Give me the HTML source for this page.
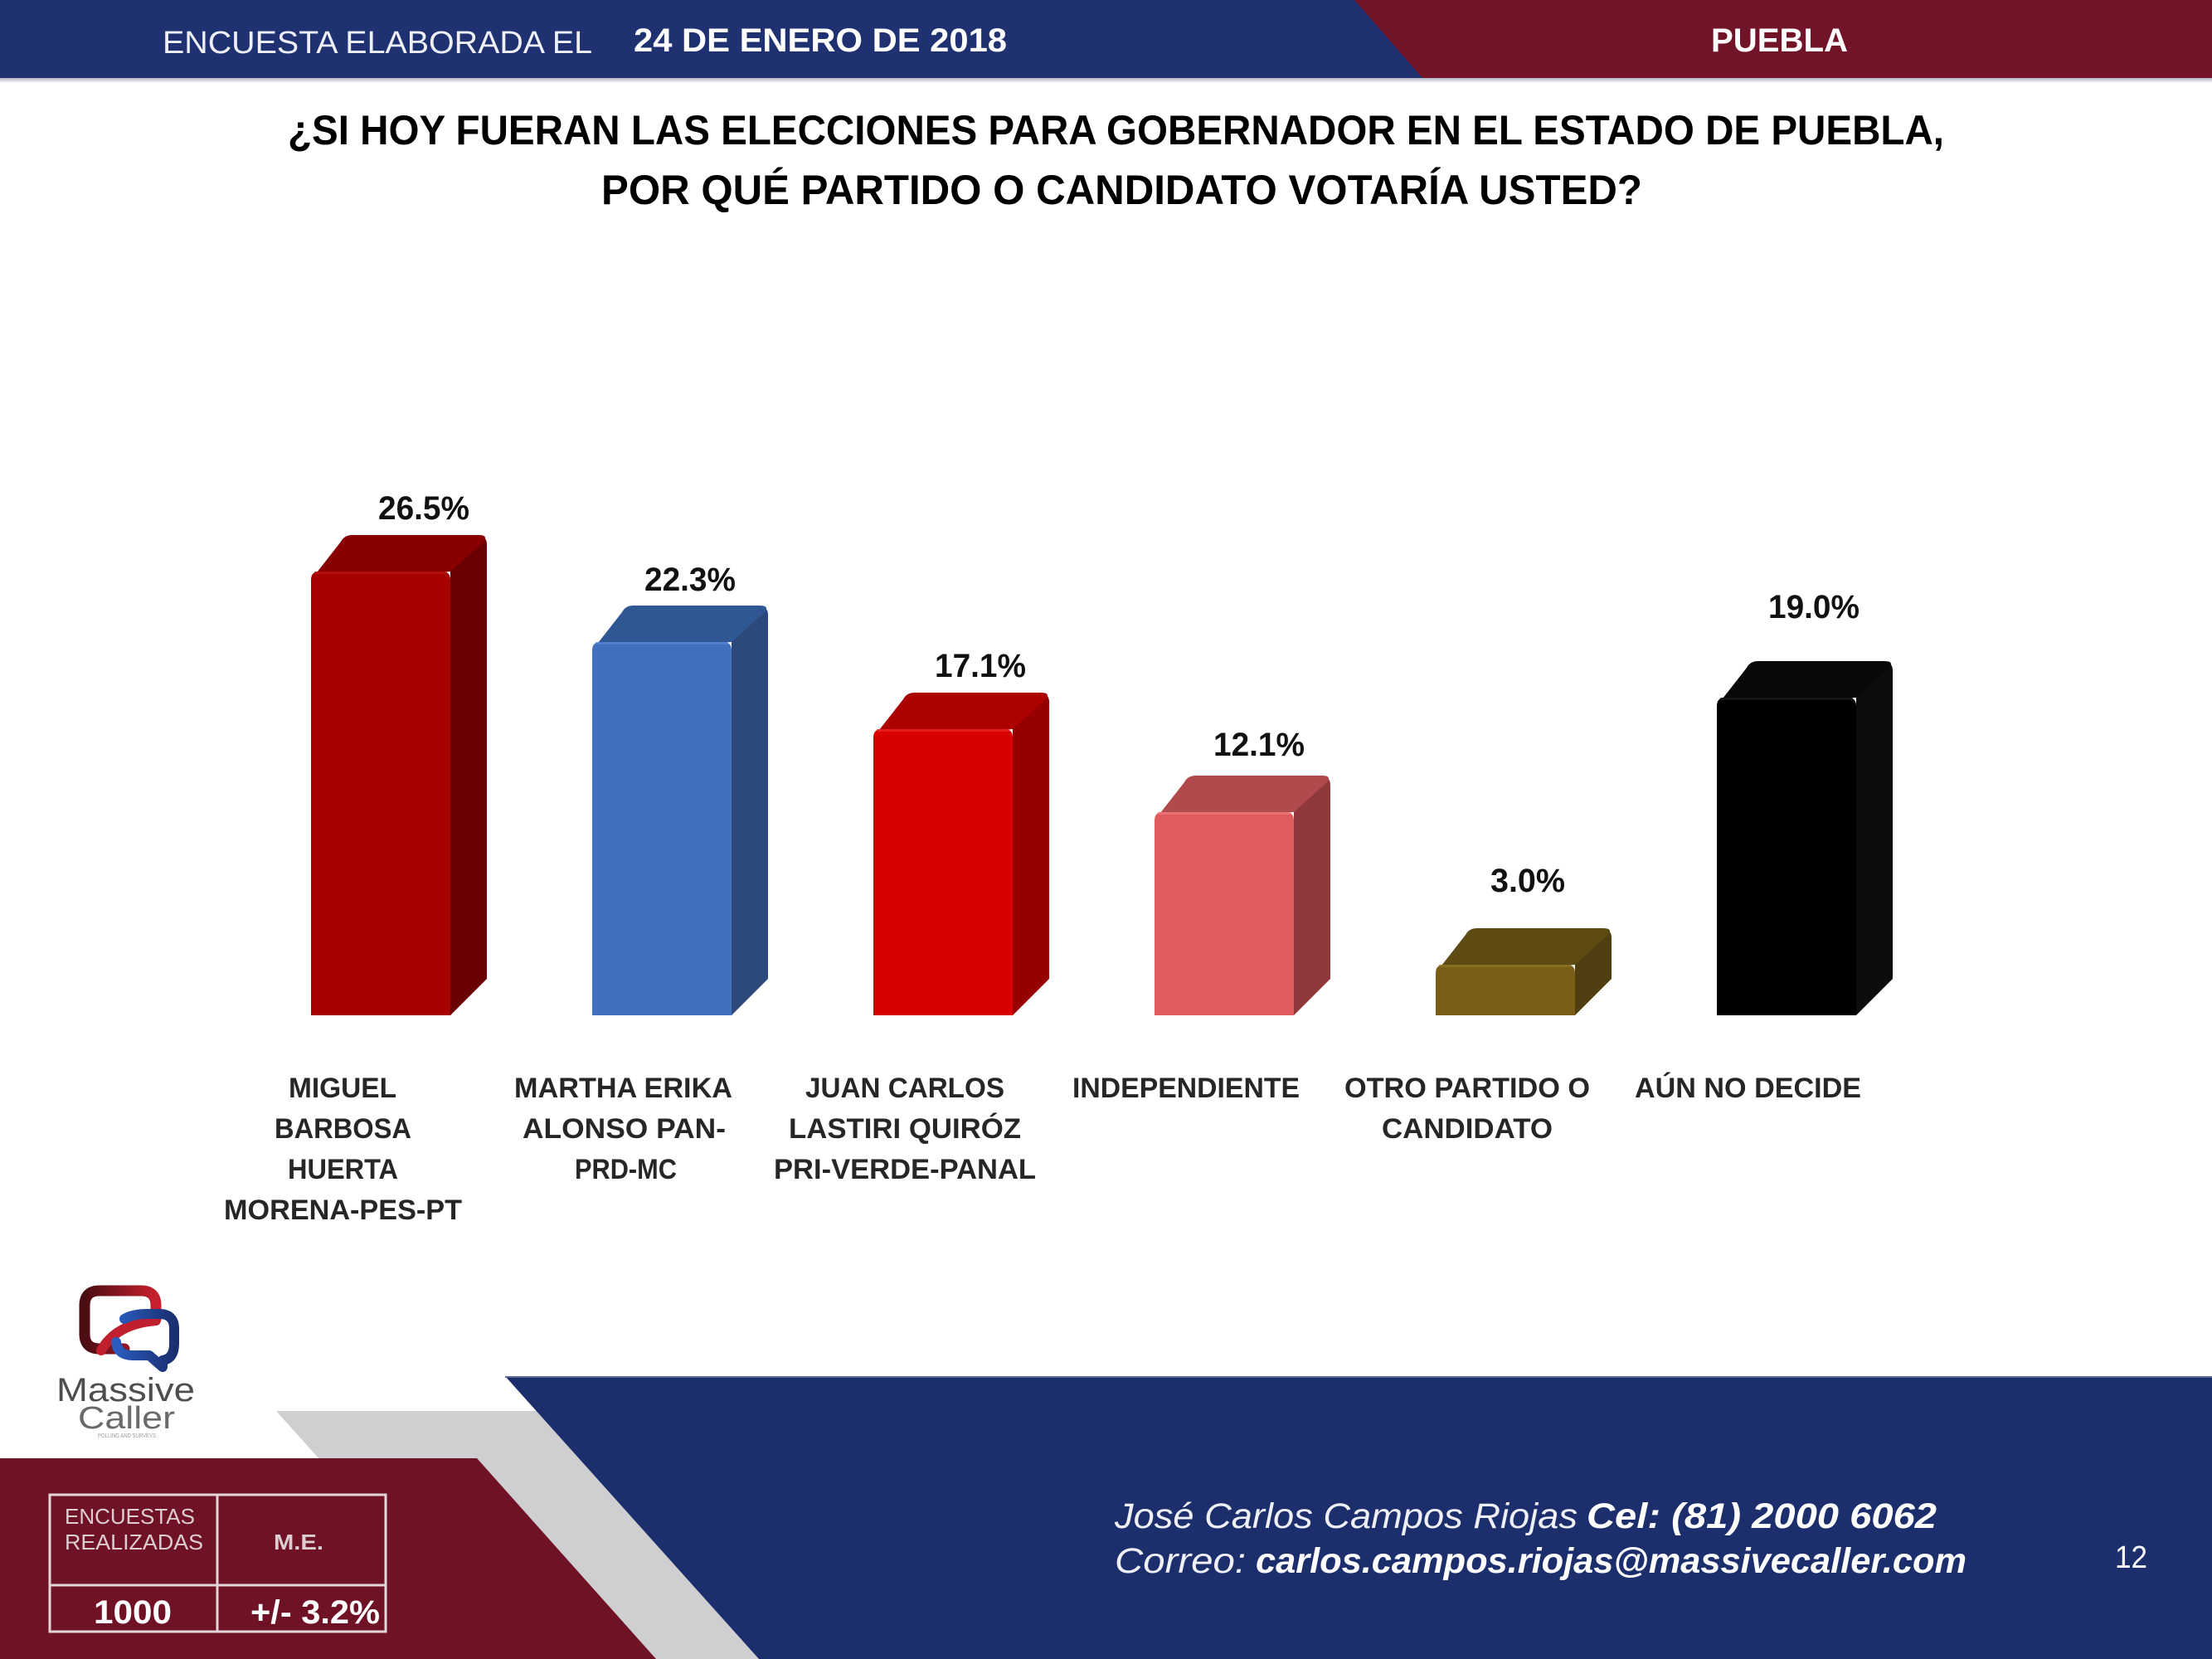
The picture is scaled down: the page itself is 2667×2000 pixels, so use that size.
<!DOCTYPE html>
<html>
<head>
<meta charset="utf-8">
<style>
html,body{margin:0;padding:0;background:#fff;}
svg{display:block;}
text{font-family:"Liberation Sans",Arial,sans-serif;}
</style>
</head>
<body>
<svg width="2667" height="2000" viewBox="0 0 2667 2000" xmlns="http://www.w3.org/2000/svg">
<defs>
  <linearGradient id="shadow" x1="0" y1="0" x2="0" y2="1">
    <stop offset="0" stop-color="#aeb3c4"/>
    <stop offset="1" stop-color="#ffffff"/>
  </linearGradient>
  <linearGradient id="rg" x1="0" y1="0" x2="1" y2="0">
    <stop offset="0" stop-color="#4a0d12"/>
    <stop offset="1" stop-color="#c8202f"/>
  </linearGradient>
  <linearGradient id="bg" x1="0" y1="0" x2="1" y2="0">
    <stop offset="0" stop-color="#2a5cc0"/>
    <stop offset="1" stop-color="#1a2f70"/>
  </linearGradient>
</defs>

<!-- Header -->
<rect x="0" y="0" width="2667" height="94" fill="#1f3170"/>
<polygon points="1633,0 2667,0 2667,94 1715,94" fill="#721428"/>
<rect x="0" y="94" width="2667" height="6" fill="url(#shadow)"/>
<text x="196" y="64" font-size="38" fill="#eef0f6" textLength="518" lengthAdjust="spacingAndGlyphs">ENCUESTA ELABORADA EL</text>
<text x="764" y="62" font-size="40" font-weight="bold" fill="#ffffff" textLength="450" lengthAdjust="spacingAndGlyphs">24 DE ENERO DE 2018</text>
<text x="2063" y="62" font-size="40" font-weight="bold" fill="#ffffff" textLength="165" lengthAdjust="spacingAndGlyphs">PUEBLA</text>

<!-- Title -->
<text x="347" y="174" font-size="50" font-weight="bold" fill="#000" textLength="1997" lengthAdjust="spacingAndGlyphs">¿SI HOY FUERAN LAS ELECCIONES PARA GOBERNADOR EN EL ESTADO DE PUEBLA,</text>
<text x="725" y="246" font-size="50" font-weight="bold" fill="#000" textLength="1255" lengthAdjust="spacingAndGlyphs">POR QUÉ PARTIDO O CANDIDATO VOTARÍA USTED?</text>

<!-- Bars -->
<g>
  <path d="M543,689 L577,649 Q587,645 587,657 L587,1180 L543,1224 Z" fill="#6b0000"/>
  <path d="M375,699 L411,653 Q415,645 425,645 L577,645 Q589,645 583,653 L543,689 Z" fill="#880000"/>
  <path d="M375,1224 L375,699 Q375,689 385,689 L533,689 Q543,689 543,699 L543,1224 Z" fill="#a60000"/>
  <rect x="379" y="689" width="160" height="3" fill="#b81414" opacity="0.7"/>
</g>
<g>
  <path d="M882,774 L916,734 Q926,730 926,742 L926,1180 L882,1224 Z" fill="#2b4a7b"/>
  <path d="M714,784 L750,738 Q754,730 764,730 L916,730 Q928,730 922,738 L882,774 Z" fill="#2e5793"/>
  <path d="M714,1224 L714,784 Q714,774 724,774 L872,774 Q882,774 882,784 L882,1224 Z" fill="#4170bf"/>
  <rect x="718" y="774" width="160" height="3" fill="#5a88d4" opacity="0.7"/>
</g>
<g>
  <path d="M1221,879 L1255,839 Q1265,835 1265,847 L1265,1180 L1221,1224 Z" fill="#960000"/>
  <path d="M1053,889 L1089,843 Q1093,835 1103,835 L1255,835 Q1267,835 1261,843 L1221,879 Z" fill="#ad0000"/>
  <path d="M1053,1224 L1053,889 Q1053,879 1063,879 L1211,879 Q1221,879 1221,889 L1221,1224 Z" fill="#da0000"/>
  <rect x="1057" y="879" width="160" height="3" fill="#ea2a2a" opacity="0.7"/>
</g>
<g>
  <path d="M1560,979 L1594,939 Q1604,935 1604,947 L1604,1180 L1560,1224 Z" fill="#8f393c"/>
  <path d="M1392,989 L1428,943 Q1432,935 1442,935 L1594,935 Q1606,935 1600,943 L1560,979 Z" fill="#b04a4d"/>
  <path d="M1392,1224 L1392,989 Q1392,979 1402,979 L1550,979 Q1560,979 1560,989 L1560,1224 Z" fill="#df5b5e"/>
  <rect x="1396" y="979" width="160" height="3" fill="#ee7a7c" opacity="0.7"/>
</g>
<g>
  <path d="M1899,1163 L1933,1123 Q1943,1119 1943,1131 L1943,1180 L1899,1224 Z" fill="#4e3e10"/>
  <path d="M1731,1173 L1767,1127 Q1771,1119 1781,1119 L1933,1119 Q1945,1119 1939,1127 L1899,1163 Z" fill="#5e4a13"/>
  <path d="M1731,1224 L1731,1173 Q1731,1163 1741,1163 L1889,1163 Q1899,1163 1899,1173 L1899,1224 Z" fill="#7a5e18"/>
  <rect x="1735" y="1163" width="160" height="3" fill="#907428" opacity="0.7"/>
</g>
<g>
  <path d="M2238,841 L2272,801 Q2282,797 2282,809 L2282,1180 L2238,1224 Z" fill="#0d0d0d"/>
  <path d="M2070,851 L2106,805 Q2110,797 2120,797 L2272,797 Q2284,797 2278,805 L2238,841 Z" fill="#080808"/>
  <path d="M2070,1224 L2070,851 Q2070,841 2080,841 L2228,841 Q2238,841 2238,851 L2238,1224 Z" fill="#000000"/>
  <rect x="2074" y="841" width="160" height="3" fill="#1c1c1c" opacity="0.7"/>
</g>

<!-- Value labels -->
<g font-size="40" font-weight="bold" fill="#111">
  <text x="456" y="626" textLength="110" lengthAdjust="spacingAndGlyphs">26.5%</text>
  <text x="777" y="712" textLength="110" lengthAdjust="spacingAndGlyphs">22.3%</text>
  <text x="1127" y="816" textLength="110" lengthAdjust="spacingAndGlyphs">17.1%</text>
  <text x="1463" y="911" textLength="110" lengthAdjust="spacingAndGlyphs">12.1%</text>
  <text x="1797" y="1075" textLength="90" lengthAdjust="spacingAndGlyphs">3.0%</text>
  <text x="2132" y="745" textLength="110" lengthAdjust="spacingAndGlyphs">19.0%</text>
</g>

<!-- Category labels -->
<g font-size="34" font-weight="bold" fill="#262626">
  <text x="348" y="1323" textLength="130" lengthAdjust="spacingAndGlyphs">MIGUEL</text>
  <text x="331" y="1372" textLength="165" lengthAdjust="spacingAndGlyphs">BARBOSA</text>
  <text x="347" y="1421" textLength="133" lengthAdjust="spacingAndGlyphs">HUERTA</text>
  <text x="270" y="1470" textLength="287" lengthAdjust="spacingAndGlyphs">MORENA-PES-PT</text>

  <text x="620" y="1323" textLength="263" lengthAdjust="spacingAndGlyphs">MARTHA ERIKA</text>
  <text x="630" y="1372" textLength="245" lengthAdjust="spacingAndGlyphs">ALONSO PAN-</text>
  <text x="693" y="1421" textLength="123" lengthAdjust="spacingAndGlyphs">PRD-MC</text>

  <text x="971" y="1323" textLength="240" lengthAdjust="spacingAndGlyphs">JUAN CARLOS</text>
  <text x="951" y="1372" textLength="280" lengthAdjust="spacingAndGlyphs">LASTIRI QUIRÓZ</text>
  <text x="933" y="1421" textLength="316" lengthAdjust="spacingAndGlyphs">PRI-VERDE-PANAL</text>

  <text x="1293" y="1323" textLength="274" lengthAdjust="spacingAndGlyphs">INDEPENDIENTE</text>

  <text x="1621" y="1323" textLength="296" lengthAdjust="spacingAndGlyphs">OTRO PARTIDO O</text>
  <text x="1666" y="1372" textLength="206" lengthAdjust="spacingAndGlyphs">CANDIDATO</text>

  <text x="1971" y="1323" textLength="273" lengthAdjust="spacingAndGlyphs">AÚN NO DECIDE</text>
</g>

<!-- Footer shapes -->
<polygon points="333,1701 647,1701 915,2000 601,2000" fill="#cfcfd2"/>
<polygon points="609,1659 2667,1659 2667,2000 915,2000" fill="#1c2e6b"/>
<line x1="609" y1="1660" x2="2667" y2="1660" stroke="#5a6897" stroke-width="2"/>
<polygon points="0,1758 575,1758 791,2000 0,2000" fill="#701226"/>

<!-- Logo -->
<g fill="none" stroke-linecap="round" stroke-linejoin="round">
  <path d="M150,1626 L120,1626 Q102,1626 102,1608 L102,1574 Q102,1556 120,1556 L170,1556 Q188,1556 188,1574 L188,1590" stroke="url(#rg)" stroke-width="13"/>
  <path d="M122,1628 Q140,1596 188,1592" stroke="#c01f2e" stroke-width="12"/>
  <path d="M150,1590 Q160,1584 178,1584 L192,1584 Q210,1584 210,1602 L210,1620 Q210,1638 196,1640 L196,1648 L180,1634 L160,1634 Q142,1634 140,1618" stroke="url(#bg)" stroke-width="12"/>
</g>
<text x="68" y="1689" font-size="40" fill="#4d4d4d" textLength="167" lengthAdjust="spacingAndGlyphs">Massive</text>
<text x="94" y="1722" font-size="38" fill="#6a6a6a" textLength="117" lengthAdjust="spacingAndGlyphs">Caller</text>
<text x="118" y="1733" font-size="7" fill="#999" textLength="70" lengthAdjust="spacingAndGlyphs">POLLING AND SURVEYS</text>

<!-- Table -->
<g stroke="#e2d6d9" stroke-width="3" fill="none">
  <rect x="60" y="1802" width="405" height="165"/>
  <line x1="262" y1="1802" x2="262" y2="1967"/>
  <line x1="60" y1="1911" x2="465" y2="1911"/>
</g>
<text x="78" y="1837" font-size="26" fill="#dccdd1" textLength="157" lengthAdjust="spacingAndGlyphs">ENCUESTAS</text>
<text x="78" y="1868" font-size="26" fill="#dccdd1" textLength="167" lengthAdjust="spacingAndGlyphs">REALIZADAS</text>
<text x="330" y="1868" font-size="26" font-weight="bold" fill="#dccdd1" textLength="60" lengthAdjust="spacingAndGlyphs">M.E.</text>
<text x="113" y="1957" font-size="40" font-weight="bold" fill="#ffffff" textLength="94" lengthAdjust="spacingAndGlyphs">1000</text>
<text x="302" y="1957" font-size="40" font-weight="bold" fill="#ffffff" textLength="156" lengthAdjust="spacingAndGlyphs">+/- 3.2%</text>

<!-- Contact -->
<text x="1344" y="1842" font-size="43" font-style="italic" fill="#eef0f6" textLength="558" lengthAdjust="spacingAndGlyphs">José Carlos Campos Riojas</text>
<text x="1913" y="1842" font-size="43" font-style="italic" font-weight="bold" fill="#ffffff" textLength="422" lengthAdjust="spacingAndGlyphs">Cel: (81) 2000 6062</text>
<text x="1344" y="1896" font-size="43" font-style="italic" fill="#eef0f6" textLength="158" lengthAdjust="spacingAndGlyphs">Correo:</text>
<text x="1514" y="1896" font-size="43" font-style="italic" font-weight="bold" fill="#ffffff" textLength="857" lengthAdjust="spacingAndGlyphs">carlos.campos.riojas@massivecaller.com</text>
<text x="2550" y="1890" font-size="38" fill="#ffffff" textLength="39" lengthAdjust="spacingAndGlyphs">12</text>
</svg>
</body>
</html>
